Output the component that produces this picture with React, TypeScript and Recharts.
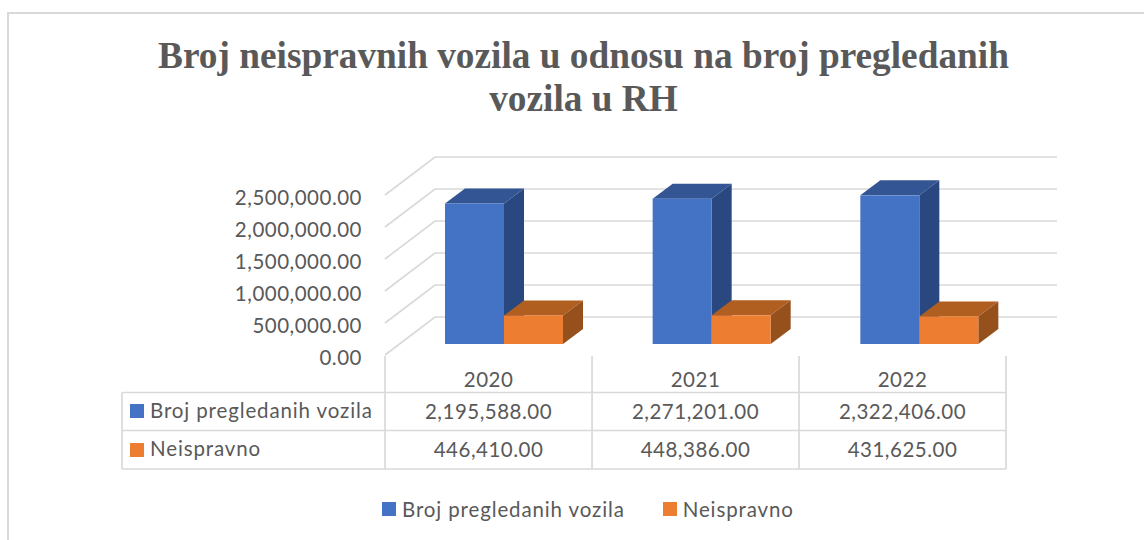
import { BarChart, Bar, XAxis, YAxis, CartesianGrid, Legend } from 'recharts'

const years = ['2020', '2021', '2022']
const pregledano = [2195588, 2271201, 2322406]
const neispravno = [446410, 448386, 431625]
const yTicks = [0, 500000, 1000000, 1500000, 2000000, 2500000]
const seriesNames = ['Broj pregledanih vozila', 'Neispravno']

const data = years.map((year, i) => ({ year, pregledano: pregledano[i], neispravno: neispravno[i] }))

const FONT = 'Lato, sans-serif'
const TEXT = '#595959'
const LINE = '#d9d9d9'
const BLUE = '#4472c4'
const ORANGE = '#ed7d31'
const LW = 1.7

const money = (v: number) =>
  v.toLocaleString('en-US', { minimumFractionDigits: 2, maximumFractionDigits: 2 })

// depth of the fake 3D box
const DX = 20
const DY = 15

function Box3D({ x, y, width, height, fill, top, side }: any) {
  const r = x + width
  const b = y + height
  return (
    <g>
      <polygon points={`${x},${y} ${x + DX},${y - DY} ${r + DX},${y - DY} ${r},${y}`} fill={top} />
      <polygon points={`${r},${y} ${r + DX},${y - DY} ${r + DX},${b - DY} ${r},${b}`} fill={side} />
      <rect x={x} y={y} width={width} height={height} fill={fill} />
    </g>
  )
}

// floor + back wall: each gridline runs front-left -> back-left -> back-right
function WallLine({ y1, index }: any) {
  return (
    <polyline
      key={index}
      points={`385,${y1 + 11} 435,${y1 - 27} 1057,${y1 - 27}`}
      fill="none"
      stroke={LINE}
      strokeWidth={LW}
    />
  )
}

// the data table hangs below the category axis, one column per tick
// (table columns are a touch narrower than the bar bands, hence the index term)
function TableColumn({ x, y, index, payload }: any) {
  const left = x - 118.8 - index * 0.67
  const right = left + 207
  const top = y + 48.5
  const rows = [top, top + 38, top + 76.5]
  const mid = left + 103.5
  const digits = { fontFamily: FONT, fontSize: 20.5, letterSpacing: 0.5, fill: TEXT }
  const label = { fontFamily: FONT, fontSize: 20.5, letterSpacing: 0.87, fill: TEXT }
  return (
    <g>
      <line x1={right} x2={right} y1={y + 12} y2={rows[2]} stroke={LINE} strokeWidth={LW} />
      {rows.map(r => (
        <line key={r} x1={left} x2={right} y1={r} y2={r} stroke={LINE} strokeWidth={LW} />
      ))}
      <text x={mid} y={y + 43} textAnchor="middle" {...digits}>{payload.value}</text>
      <text x={mid} y={y + 75} textAnchor="middle" {...digits}>{money(pregledano[index])}</text>
      <text x={mid} y={y + 113} textAnchor="middle" {...digits}>{money(neispravno[index])}</text>
      {index === 0 && (
        <g>
          <line x1={left} x2={left} y1={y + 12} y2={rows[2]} stroke={LINE} strokeWidth={LW} />
          <line x1={122} x2={122} y1={rows[0]} y2={rows[2]} stroke={LINE} strokeWidth={LW} />
          <line x1={122} x2={left} y1={rows[0]} y2={rows[0]} stroke={LINE} strokeWidth={LW} />
          <line x1={122} x2={left} y1={rows[1]} y2={rows[1]} stroke={LINE} strokeWidth={LW} />
          <line x1={122} x2={left} y1={rows[2]} y2={rows[2]} stroke={LINE} strokeWidth={LW} />
          <rect x={130} y={y + 60} width={14} height={14} fill={BLUE} />
          <rect x={130} y={y + 99} width={14} height={14} fill={ORANGE} />
          <text x={150} y={y + 74} {...label}>{seriesNames[0]}</text>
          <text x={150} y={y + 112} {...label}>{seriesNames[1]}</text>
        </g>
      )}
    </g>
  )
}

function BottomLegend({ payload }: any) {
  return (
    <div style={{ display: 'flex', fontFamily: FONT, fontSize: 20.5, letterSpacing: 0.87, color: TEXT, lineHeight: '24px' }}>
      {(payload ?? []).map((item: any, i: number) => (
        <div key={item.value} style={{ display: 'flex', alignItems: 'center', marginRight: i === 0 ? 38 : 0 }}>
          <span style={{ width: 14, height: 14, background: item.color, marginRight: 6 }} />
          <span>{item.value}</span>
        </div>
      ))}
    </div>
  )
}

export default function App() {
  return (
    <div style={{ position: 'absolute', left: 0, top: 0, width: 1144, height: 540, background: '#fff', overflow: 'hidden' }}>
      <div style={{ position: 'absolute', left: 7, top: 12, width: 1144, height: 540, borderLeft: `2px solid ${LINE}`, borderTop: `2px solid ${LINE}` }} />
      <BarChart
        width={1144}
        height={540}
        data={data}
        barSize={59}
        barGap={0}
        margin={{ top: 184, right: 121, bottom: 42, left: 0 }}
        style={{ position: 'absolute', left: 0, top: 0 }}
      >
        <text x={583.5} y={68} textAnchor="middle" fontFamily="'Liberation Serif', serif" fontWeight={700} fontSize={37.3} fill={TEXT}>
          Broj neispravnih vozila u odnosu na broj pregledanih
        </text>
        <text x={583.5} y={111} textAnchor="middle" fontFamily="'Liberation Serif', serif" fontWeight={700} fontSize={37.3} fill={TEXT}>
          vozila u RH
        </text>
        <CartesianGrid vertical={false} horizontal={(p: any) => <WallLine {...p} />} />
        <XAxis dataKey="year" axisLine={false} tickLine={false} tickSize={0} tickMargin={0} interval={0} height={130} tick={<TableColumn />} />
        <YAxis
          width={400}
          domain={[0, 2500000]}
          ticks={yTicks}
          axisLine={false}
          tickLine={false}
          tickSize={0}
          tickMargin={38}
          tickFormatter={money}
          tick={{ fontFamily: FONT, fontSize: 20.5, letterSpacing: 0.5, fill: TEXT, dy: 14 }}
        />
        <Legend
          verticalAlign="bottom"
          content={<BottomLegend />}
          wrapperStyle={{ left: 382, bottom: 19, width: 480, height: 24 }}
        />
        <Bar
          dataKey="pregledano"
          name={seriesNames[0]}
          fill={BLUE}
          isAnimationActive={false}
          shape={(p: any) => <Box3D {...p} top="#335593" side="#2a4880" />}
        />
        <Bar
          dataKey="neispravno"
          name={seriesNames[1]}
          fill={ORANGE}
          isAnimationActive={false}
          shape={(p: any) => <Box3D {...p} top="#b15e21" side="#96501c" />}
        />
      </BarChart>
    </div>
  )
}
